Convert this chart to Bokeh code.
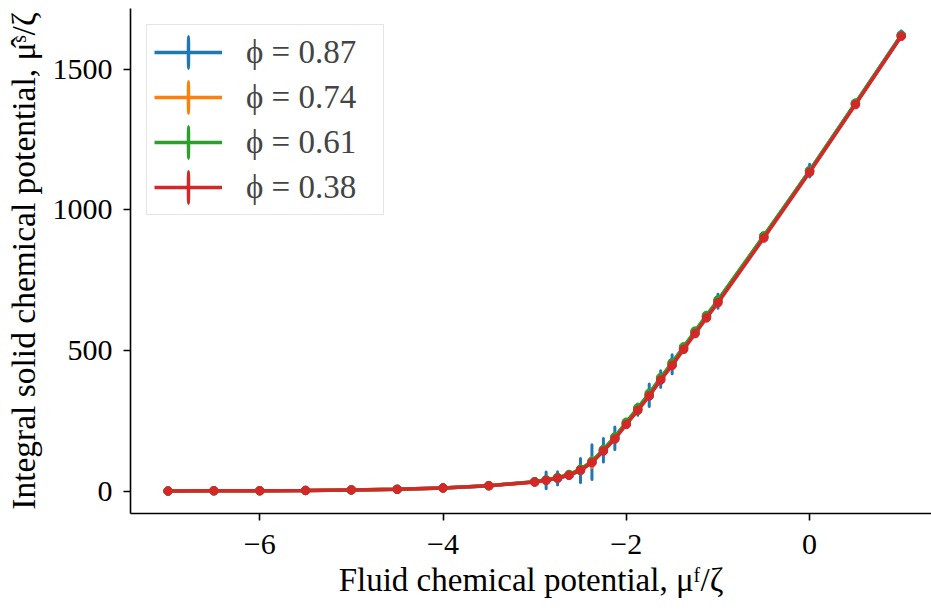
from bokeh.plotting import figure
from bokeh.models import Range1d, FixedTicker, Legend, LegendItem, ColumnDataSource
from bokeh.embed import file_html
from bokeh.resources import INLINE

# ---- data ----
mu_f = [-7.0, -6.5, -6.0, -5.5, -5.0, -4.5, -4.0, -3.5, -3.0, -2.875, -2.75, -2.625,
        -2.5, -2.375, -2.25, -2.125, -2.0, -1.875, -1.75, -1.625, -1.5, -1.375,
        -1.25, -1.125, -1.0, -0.5, 0.0, 0.5, 1.0]

labels = ["ϕ = 0.87", "ϕ = 0.74", "ϕ = 0.61", "ϕ = 0.38"]
colors = ["#1f77b4", "#ff7f0e", "#2ca02c", "#d62728"]

mu_s_087 = [0, 1, 1, 2, 4, 6, 11, 19, 33, 38, 45, 56, 73, 103, 145, 188, 240, 290,
            341, 398, 451, 508, 564, 620, 675, 905, 1140, 1380, 1623]
err_087 = [1, 1, 1, 1, 2, 2, 3, 4, 6, 30, 24, 10, 43, 62, 42, 40, 15, 20, 40, 30,
           34, 14, 12, 14, 25, 12, 23, 10, 14]

mu_s_074 = [0, 1, 1, 2, 4, 6, 11, 19, 32, 39, 47, 57, 76, 104, 146, 190, 242, 293,
            345, 401, 454, 510, 566, 622, 677, 906, 1138, 1378, 1620]
err_074 = [1, 1, 1, 1, 1, 2, 2, 3, 4, 8, 8, 10, 14, 20, 12, 10, 8, 8, 10, 8,
           8, 6, 6, 6, 6, 6, 8, 6, 6]

mu_s_061 = [0, 1, 1, 2, 4, 6, 11, 19, 33, 40, 48, 59, 78, 106, 148, 193, 245, 296,
            348, 404, 457, 513, 569, 625, 680, 908, 1140, 1380, 1621]
err_061 = [1, 1, 1, 1, 1, 1, 2, 2, 3, 5, 6, 6, 8, 10, 8, 8, 6, 6, 6, 6,
           6, 5, 5, 5, 5, 5, 6, 5, 5]

mu_s_038 = [0, 1, 1, 2, 4, 6, 11, 19, 32, 38, 46, 56, 74, 101, 142, 185, 237, 287,
            338, 395, 447, 504, 560, 616, 670, 900, 1134, 1375, 1618]
err_038 = [1, 1, 1, 1, 1, 1, 1, 2, 2, 3, 3, 4, 5, 6, 5, 5, 4, 4, 4, 4,
           4, 4, 4, 4, 4, 4, 5, 4, 4]

series = [mu_s_087, mu_s_074, mu_s_061, mu_s_038]
errors = [err_087, err_074, err_061, err_038]

x_ticks = [-6, -4, -2, 0]
x_tick_labels = ["−6", "−4", "−2", "0"]
y_ticks = [0, 500, 1000, 1500]
y_tick_labels = ["0", "500", "1000", "1500"]

x_label = "Fluid chemical potential, μᶠ/ζ"
y_label = "Integral solid chemical potential, μ̂ˢ/ζ"

SERIF = "Liberation Serif"

p = figure(width=931, height=610, output_backend="svg", toolbar_location=None,
           x_range=Range1d(-7.41, 1.33), y_range=Range1d(-80, 1717),
           min_border_left=130, min_border_right=0, min_border_top=8,
           min_border_bottom=97)
p.outline_line_color = None
p.xgrid.visible = False
p.ygrid.visible = False
p.background_fill_color = "white"

p.xaxis.ticker = FixedTicker(ticks=x_ticks, minor_ticks=[])
p.xaxis.major_label_overrides = {t: l for t, l in zip(x_ticks, x_tick_labels)}
p.yaxis.ticker = FixedTicker(ticks=y_ticks, minor_ticks=[])
p.yaxis.major_label_overrides = {t: l for t, l in zip(y_ticks, y_tick_labels)}

for ax in (p.xaxis[0], p.yaxis[0]):
    ax.axis_line_color = "black"
    ax.axis_line_width = 1.6
    ax.major_tick_line_color = "black"
    ax.major_tick_line_width = 1.6
    ax.major_tick_out = 7
    ax.major_tick_in = 0
    ax.minor_tick_line_color = None
    ax.major_label_text_font = SERIF
    ax.major_label_text_font_size = "30px"
    ax.major_label_text_color = "black"
    ax.axis_label_text_font = SERIF
    ax.axis_label_text_font_style = "normal"
    ax.axis_label_text_color = "black"

p.xaxis.axis_label = x_label
p.yaxis.axis_label = y_label
p.xaxis.axis_label_text_font_size = "33px"
p.yaxis.axis_label_text_font_size = "33.5px"
p.xaxis.major_label_standoff = 14
p.xaxis.axis_label_standoff = 5
p.yaxis.major_label_standoff = 11
p.yaxis.axis_label_standoff = 8

items = []
for ys, es, c, lbl in zip(series, errors, colors, labels):
    span = [2 * e for e in es]
    src = ColumnDataSource(dict(x=mu_f, y=ys, span=span))
    # error bars: very thin ellipses (also give a vertical bar in the legend)
    eb = p.ellipse(x="x", y="y", width=0.0001, height="span", source=src,
                   fill_color=None, line_color=c, line_width=3)
    ln = p.line("x", "y", source=src, line_color=c, line_width=3.5)
    p.scatter("x", "y", source=src, marker="circle", size=8.5, fill_color=c, line_color=c)
    # legend-only centre dot (size 0 in the plot; the legend sizes it itself)
    dt = p.scatter("x", "y", source=src, marker="dot", size=0, line_color=c, fill_color=c)
    items.append(LegendItem(label=lbl, renderers=[ln, eb, dt]))

legend = Legend(items=items, location="top_left", margin=16,
                glyph_width=68, glyph_height=40, spacing=5, padding=7,
                label_standoff=24, label_width=130,
                label_text_font=SERIF, label_text_font_size="33px",
                border_line_color="#cccccc", border_line_width=1.2,
                background_fill_color="white", background_fill_alpha=0.8)
p.add_layout(legend)

open("out.html", "w").write(file_html(p, INLINE))
